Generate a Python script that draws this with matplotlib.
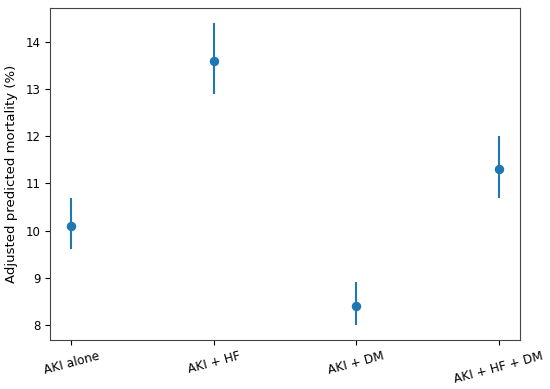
import matplotlib
matplotlib.use("Agg")
import matplotlib.pyplot as plt
import numpy as np

categories = ["AKI alone", "AKI + HF", "AKI + DM", "AKI + HF + DM"]
estimates = [10.1, 13.6, 8.4, 11.3]
lower = [9.6, 12.9, 8.0, 10.7]
upper = [10.7, 14.4, 8.9, 12.0]

est = np.array(estimates)
yerr = np.vstack([est - np.array(lower), np.array(upper) - est])

fig = plt.figure(figsize=(5.5, 3.89), dpi=100)
ax = fig.add_axes([50/550, 1 - 340/389, 470/550, 332/389])
x = np.arange(len(categories))
ax.errorbar(x, est, yerr=yerr, fmt="o", color="#1f77b4", markersize=5.8, elinewidth=1.5)
ax.set_xticks(x)
ax.set_xticklabels(categories, rotation=15, fontsize=8.7)
ax.tick_params(axis="y", labelsize=8.5)
ax.set_ylabel("Adjusted predicted mortality (%)", fontsize=9.5, labelpad=5)
for s in ax.spines.values():
    s.set_color("#444444")
fig.savefig("out.png", dpi=100)
